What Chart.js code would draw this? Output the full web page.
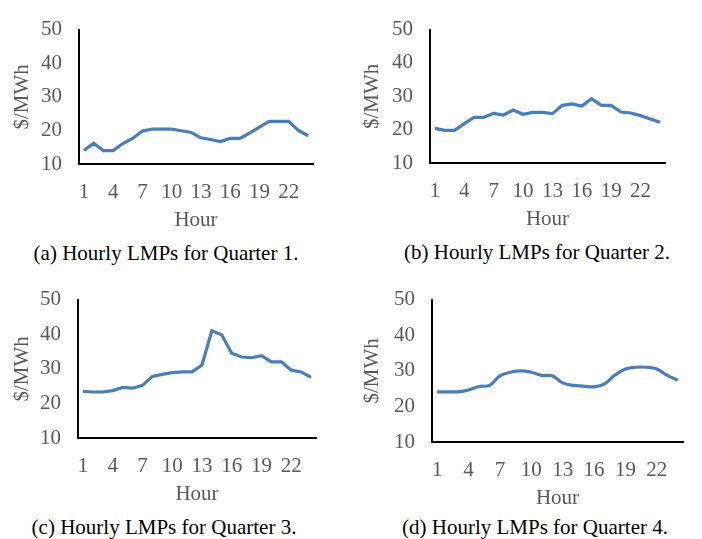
<!DOCTYPE html>
<html>
<head>
<meta charset="utf-8">
<script src="https://cdn.jsdelivr.net/npm/chart.js@4/dist/chart.umd.min.js"></script>
<style>
    body { margin: 0; background: #fff; width: 702px; height: 539px; position: relative; overflow: hidden; }
    .painel { position: absolute; }
    .legenda {
        position: absolute; width: 340px; margin-left: -170px; text-align: center;
        font-family: "Liberation Serif", "Times New Roman", serif; font-size: 21px; color: #000;
        line-height: 24px;
    }
</style>
</head>
<body>
<div class="painel" id="p1"><canvas id="g1"></canvas></div>
<div class="painel" id="p2"><canvas id="g2"></canvas></div>
<div class="painel" id="p3"><canvas id="g3"></canvas></div>
<div class="painel" id="p4"><canvas id="g4"></canvas></div>
<div class="legenda" style="left:166px; top:241px;">(a) Hourly LMPs for Quarter 1.</div>
<div class="legenda" style="left:537px; top:240px;">(b) Hourly LMPs for Quarter 2.</div>
<div class="legenda" style="left:164px; top:515px;">(c) Hourly LMPs for Quarter 3.</div>
<div class="legenda" style="left:535px; top:515px;">(d) Hourly LMPs for Quarter 4.</div>
<script>
const horas = Array.from({ length: 24 }, (_, i) => String(i + 1));

const q1 = [14, 16.2, 14, 14, 16.1, 17.6, 19.8, 20.4, 20.4, 20.4, 19.9, 19.4,
            17.8, 17.3, 16.7, 17.6, 17.6, 19.2, 21, 22.7, 22.7, 22.7, 20, 18.4];
const q2 = [20.4, 19.8, 19.8, 21.8, 23.7, 23.7, 24.9, 24.4, 25.9, 24.6, 25.2, 25.2,
            24.8, 27.3, 27.7, 27.1, 29.3, 27.3, 27.3, 25.3, 25, 24.2, 23.2, 22.2];
const q3 = [23.5, 23.3, 23.3, 23.7, 24.6, 24.4, 25.2, 27.8, 28.4, 28.9, 29.1, 29.1,
            31.1, 41, 39.8, 34.5, 33.4, 33.2, 33.8, 32, 32, 29.6, 29.1, 27.5];
const q4 = [24.1, 24.1, 24.1, 24.6, 25.6, 25.9, 28.6, 29.6, 30, 29.6, 28.7, 28.6,
            26.6, 25.9, 25.7, 25.5, 26.3, 28.8, 30.5, 31, 31, 30.5, 28.7, 27.4];

const yMin = 10, yMax = 50, yPasso = 10;

const COR_LINHA = '#4a7ebb';
const COR_TEXTO = '#595959';
const FONTE = { family: '"Liberation Serif", "Times New Roman", serif', size: 21 };

// geometria de cada painel: posição do canvas e da área do gráfico
const PAINEIS = [
    { id: 'g1', caixa: 'p1', left: 0,   top: 0,   eixoX: 79,  topo: 13,  base: 164, dir: 313, dados: q1, tensao: 0 },
    { id: 'g2', caixa: 'p2', left: 350, top: 0,   eixoX: 80,  topo: 11,  base: 163, dir: 315, dados: q2, tensao: 0 },
    { id: 'g3', caixa: 'p3', left: 0,   top: 270, eixoX: 78,  topo: 17,  base: 168, dir: 316, dados: q3, tensao: 0 },
    { id: 'g4', caixa: 'p4', left: 350, top: 270, eixoX: 82,  topo: 16,  base: 172, dir: 333, dados: q4, tensao: 0.4 }
];

function desenharPainel(p) {
    const largura = p.dir + 16;
    const altura = p.base + 69;
    const caixa = document.getElementById(p.caixa);
    caixa.style.left = p.left + 'px';
    caixa.style.top = p.top + 'px';
    caixa.style.width = largura + 'px';
    caixa.style.height = altura + 'px';

    const ctx = document.getElementById(p.id);
    ctx.width = largura;
    ctx.height = altura;

    new Chart(ctx, {
        type: 'line',
        data: {
            labels: horas,
            datasets: [{
                data: p.dados,
                borderColor: COR_LINHA,
                borderWidth: 3.2,
                pointRadius: 0,
                tension: p.tensao,
                fill: false
            }]
        },
        options: {
            responsive: false,
            animation: false,
            layout: { padding: { top: p.topo, right: 16, left: 0, bottom: 0 } },
            plugins: { legend: { display: false }, tooltip: { enabled: false } },
            scales: {
                x: {
                    offset: true,
                    grid: { display: false, drawTicks: false },
                    border: { display: true, color: '#000', width: 2 },
                    ticks: {
                        autoSkip: false, maxRotation: 0, padding: 16,
                        color: COR_TEXTO, font: FONTE,
                        callback: (v, i) => (i % 3 === 0 ? horas[i] : '')
                    },
                    title: { display: true, text: 'Hour', color: COR_TEXTO, font: FONTE, padding: 0 },
                    afterFit: s => { s.height = 69; }
                },
                y: {
                    min: yMin, max: yMax,
                    grid: { display: false, drawTicks: false },
                    border: { display: true, color: '#000', width: 2 },
                    ticks: { stepSize: yPasso, padding: 17, color: COR_TEXTO, font: FONTE },
                    title: { display: true, text: '$/MWh', color: COR_TEXTO, font: FONTE, padding: { top: 10, bottom: 0 } },
                    afterFit: s => { s.width = p.eixoX; }
                }
            }
        }
    });
}

PAINEIS.forEach(desenharPainel);
</script>
</body>
</html>
